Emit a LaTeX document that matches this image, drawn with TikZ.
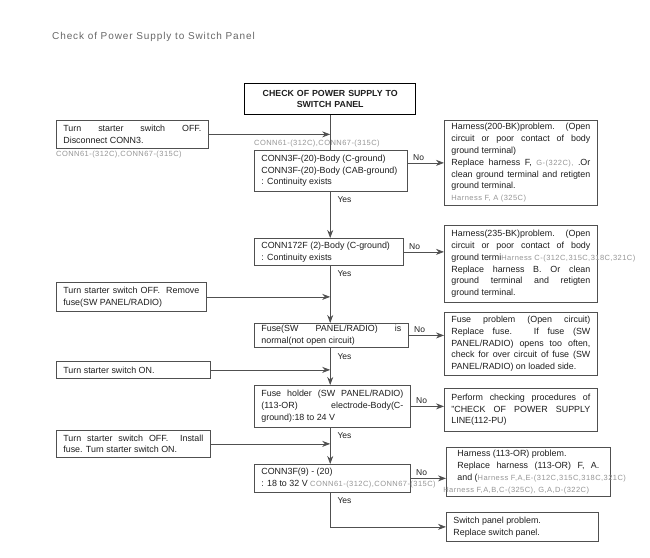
\documentclass[tikz,border=0pt]{standalone}
\usepackage{fontspec}
\setmainfont{Liberation Sans}
\newfontfamily\notefont[LetterSpace=6]{Liberation Sans}
\newfontfamily\headfont[LetterSpace=9]{Liberation Sans}
\usetikzlibrary{arrows.meta}
\definecolor{ink}{HTML}{1E1E1E}
\definecolor{frame}{HTML}{505050}
\definecolor{notegray}{HTML}{959595}
\definecolor{titlegray}{HTML}{666666}
\newcommand\partref[1]{\mbox{\notefont\fontsize{7.5}{9}\selectfont\color{notegray}#1}}

\begin{document}
\begin{tikzpicture}[x=1pt,y=-1pt,>={Stealth[length=8pt,width=6pt]},
  thin line/.style={draw=frame,line width=0.75pt},
  box node/.style 2 args={draw=frame,line width=0.75pt,text=ink,font=\fontsize{8.9}{11.8}\selectfont,
    inner xsep=7pt,inner ysep=2pt,align=justify,anchor=north west,text width=#1pt,minimum height=#2pt},
  head node/.style={draw=black,line width=1.4pt,text=ink,font=\bfseries\fontsize{8.8}{11}\selectfont,
    align=center,anchor=north west,text width=157pt,inner xsep=7pt,minimum height=31pt},
  note node/.style={inner sep=0pt,font=\notefont\fontsize{7.5}{9}\selectfont,text=notegray},
  tag/.style={inner sep=2pt,text=ink,font=\fontsize{8.5}{10}\selectfont}]
  \useasboundingbox (0,0) rectangle (650,557);

  \node[anchor=west,inner sep=0pt,text=titlegray,font=\headfont\fontsize{10}{12}\selectfont] (title) at (52,37)
    {Check of Power Supply to Switch Panel};
  \node[head node] (top) at (244,83) {CHECK OF POWER SUPPLY TO\\SWITCH PANEL};

  % left column: preparation steps
  \node[box node={138}{28}] (l1) at (56,120) {Turn starter switch OFF.\linebreak Disconnect CONN3.};
  \node[note node,anchor=north west] (l1note) at ([yshift=-2pt]l1.south west) {CONN61-(312C),CONN67-(315C)};
  \node[box node={136}{29}] (l2) at (56,282) {Turn starter switch OFF.\ \ Remove\linebreak fuse(SW PANEL/RADIO)};
  \node[box node={140}{17}] (l3) at (56,361) {Turn starter switch ON.};
  \node[box node={140}{27}] (l4) at (56,430) {Turn starter switch OFF.\ \ Install\linebreak fuse. Turn starter switch ON.};

  % middle column: checks
  \node[box node={139}{41}] (c1) at (254,150) {CONN3F-(20)-Body (C-ground)\\CONN3F-(20)-Body (CAB-ground)\\: Continuity exists};
  \node[note node,anchor=south west] (c1note) at ([yshift=3pt]c1.north west) {CONN61-(312C),CONN67-(315C)};
  \node[box node={135}{27}] (c2) at (254,238) {CONN172F (2)-Body (C-ground)\\: Continuity exists};
  \node[box node={140}{24}] (c3) at (254,323) {Fuse(SW PANEL/RADIO) is\linebreak normal(not open circuit)};
  \node[box node={142}{42}] (c4) at (254,385) {Fuse holder (SW PANEL/RADIO)\linebreak (113-OR) electrode-Body(C-\linebreak ground):18 to 24 V};
  \node[box node={142}{28}] (c5) at (254,464) {CONN3F(9) - (20)\\\mbox{: 18 to 32 V \partref{CONN61-(312C),CONN67-(315C)}}};

  % right column: results
  \node[box node={139}{85}] (r1) at (444,120) {Harness(200-BK)problem.\ \ (Open\linebreak
    circuit or poor contact of body\linebreak ground terminal)\\
    Replace harness F, \partref{G-(322C),} .Or\linebreak
    clean ground terminal and retigten\linebreak ground terminal.\\
    \partref{Harness F, A (325C)}};
  \node[box node={139}{77}] (r2) at (444,225) {Harness(235-BK)problem.\ \ (Open\linebreak
    circuit or poor contact of body\linebreak
    \mbox{ground termi\partref{Harness C-(312C,315C,318C,321C)}}\\
    Replace harness B. Or clean\linebreak
    ground terminal and retigten\linebreak ground terminal.};
  \node[box node={139}{63}] (r3) at (444,312) {Fuse problem (Open circuit)\linebreak
    Replace fuse. If fuse (SW\linebreak PANEL/RADIO) opens too often,\linebreak
    check for over circuit of fuse (SW\linebreak PANEL/RADIO) on loaded side.};
  \node[box node={139}{43}] (r4) at (444,388) {Perform checking procedures of\linebreak
    "CHECK OF POWER SUPPLY\linebreak LINE(112-PU)};
  \node[box node={142}{49},minimum width=164pt] (r5) at (446,447) {Harness (113-OR) problem.\\
    Replace harness (113-OR) F, A.\linebreak
    \mbox{and (\partref{Harness F,A,E-(312C,315C,318C,321C)}}\\
    \hspace*{-14pt}\partref{Harness F,A,B,C-(325C), G,A,D-(322C)}};
  \node[box node={138}{29}] (r6) at (446,512) {Switch panel problem.\\Replace switch panel.};

  % main line
  \draw[thin line] (top.south) -- (top.south |- c1.north);
  \draw[thin line,->] (c1.south -| top.south) node[tag,below right,xshift=5pt,yshift=-3pt] {Yes} -- (c2.north -| top.south);
  \draw[thin line,->] (c2.south -| top.south) node[tag,below right,xshift=5pt,yshift=-3pt] {Yes} -- (c3.north -| top.south);
  \draw[thin line,->] (c3.south -| top.south) node[tag,below right,xshift=5pt,yshift=-3pt] {Yes} -- (c4.north -| top.south);
  \draw[thin line,->] (c4.south -| top.south) node[tag,below right,xshift=5pt,yshift=-3pt] {Yes} -- (c5.north -| top.south);
  \draw[thin line,->] (c5.south -| top.south) node[tag,below right,xshift=5pt,yshift=-3pt] {Yes} |- (r6.west);

  % preparation steps join the main line
  \draw[thin line,->] (l1.east) -- (l1.east -| top.south);
  \draw[thin line,->] (l2.east) -- (l2.east -| top.south);
  \draw[thin line,->] (l3.east) -- (l3.east -| top.south);
  \draw[thin line,->] (l4.east) -- (l4.east -| top.south);

  % failed checks
  \draw[thin line,->] (c1.east |- r1.west) node[tag,above right,xshift=3pt] {No} -- (r1.west);
  \draw[thin line,->] (c2.east) node[tag,above right,xshift=3pt] {No} -- (c2.east -| r2.west);
  \draw[thin line,->] (c3.east) node[tag,above right,xshift=3pt] {No} -- (c3.east -| r3.west);
  \draw[thin line,->] (c4.east) node[tag,above right,xshift=3pt] {No} -- (c4.east -| r4.west);
  \draw[thin line,->] (c5.east) node[tag,above right,xshift=3pt] {No} -- (c5.east -| r5.west);
\end{tikzpicture}
\end{document}
